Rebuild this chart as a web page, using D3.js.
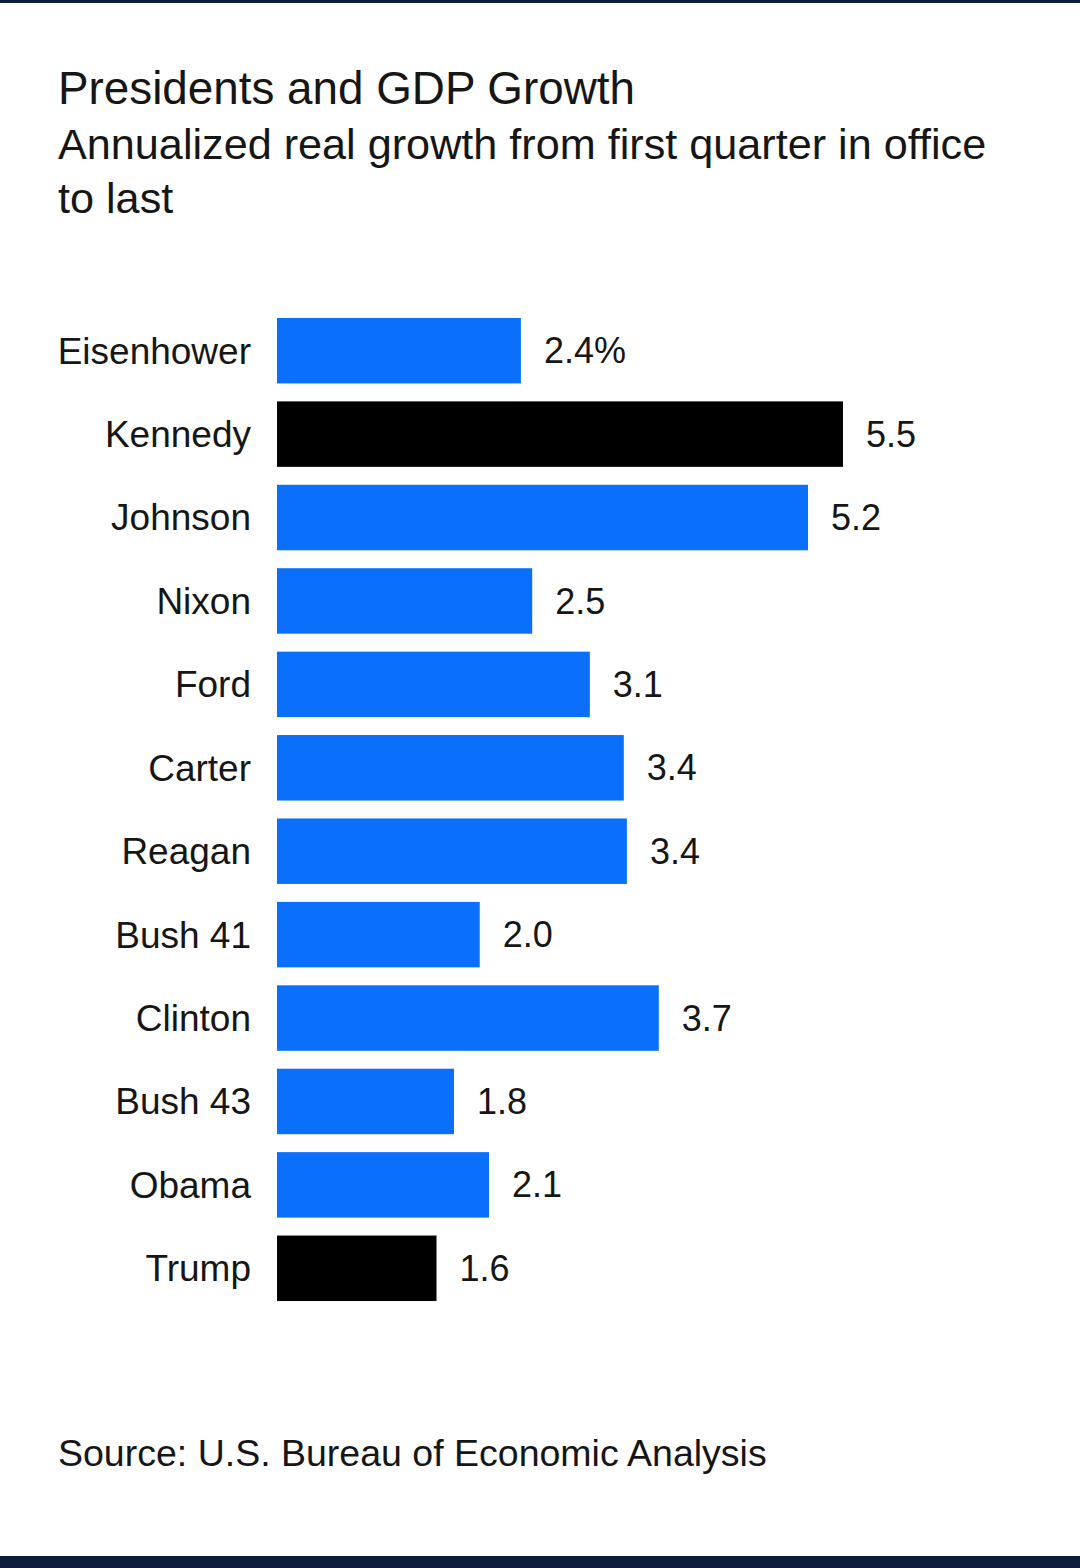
<!DOCTYPE html>
<html>
<head>
<meta charset="utf-8">
<script src="https://cdn.jsdelivr.net/npm/d3@7"></script>
<style>
  body { margin: 0; background: #fff; }
  text { font-family: "Liberation Sans", Arial, sans-serif; fill: #161616; }
</style>
</head>
<body>
<svg></svg>
<script>
// Presidents and GDP growth, horizontal bars

const width = 1080;
const height = 1568;

const presidents = ["Eisenhower", "Kennedy", "Johnson", "Nixon", "Ford", "Carter",
                    "Reagan", "Bush 41", "Clinton", "Bush 43", "Obama", "Trump"];
const growth = [2.37, 5.5, 5.16, 2.48, 3.04, 3.37, 3.4, 1.97, 3.71, 1.72, 2.06, 1.55];
const valueLabels = ["2.4%", "5.5", "5.2", "2.5", "3.1", "3.4", "3.4", "2.0", "3.7", "1.8", "2.1", "1.6"];
const highlighted = ["Kennedy", "Trump"];

const blue = "#0a70fb";
const navy = "#0d1d3b";

let canvas = d3.select("svg")
    .attr("width", width)
    .attr("height", height)

// dark strips top and bottom
canvas.append("rect").attr("x", 0).attr("y", 0).attr("width", width).attr("height", 3).attr("fill", navy)
canvas.append("rect").attr("x", 0).attr("y", 1556).attr("width", width).attr("height", 12).attr("fill", navy)

// titles
canvas.append("text").attr("x", 58).attr("y", 104)
    .style("font-size", "45.8px").text("Presidents and GDP Growth")
canvas.append("text").attr("x", 58).attr("y", 159)
    .style("font-size", "43.2px").text("Annualized real growth from first quarter in office")
canvas.append("text").attr("x", 58).attr("y", 213)
    .style("font-size", "43.2px").text("to last")

const x = d3.scaleLinear().domain([0, 5.5]).range([277, 843]);
const y = d3.scaleBand().domain(presidents).range([309, 1310])
    .paddingInner(0.215).paddingOuter(0.1075);

const rows = canvas.append("g").selectAll("g")
    .data(presidents)
    .join("g");

rows.append("rect")
    .attr("x", x(0))
    .attr("y", d => y(d))
    .attr("width", (d, i) => x(growth[i]) - x(0))
    .attr("height", y.bandwidth())
    .attr("fill", d => highlighted.includes(d) ? "#000" : blue);

rows.append("text")
    .attr("x", 251)
    .attr("y", d => y(d) + y.bandwidth() / 2)
    .attr("dy", "0.35em")
    .attr("text-anchor", "end")
    .style("font-size", "37px")
    .text(d => d);

rows.append("text")
    .attr("x", (d, i) => x(growth[i]) + 23)
    .attr("y", d => y(d) + y.bandwidth() / 2)
    .attr("dy", "0.35em")
    .style("font-size", "36px")
    .text((d, i) => valueLabels[i]);

canvas.append("text").attr("x", 58).attr("y", 1466)
    .style("font-size", "37.5px").text("Source: U.S. Bureau of Economic Analysis")
</script>
</body>
</html>
